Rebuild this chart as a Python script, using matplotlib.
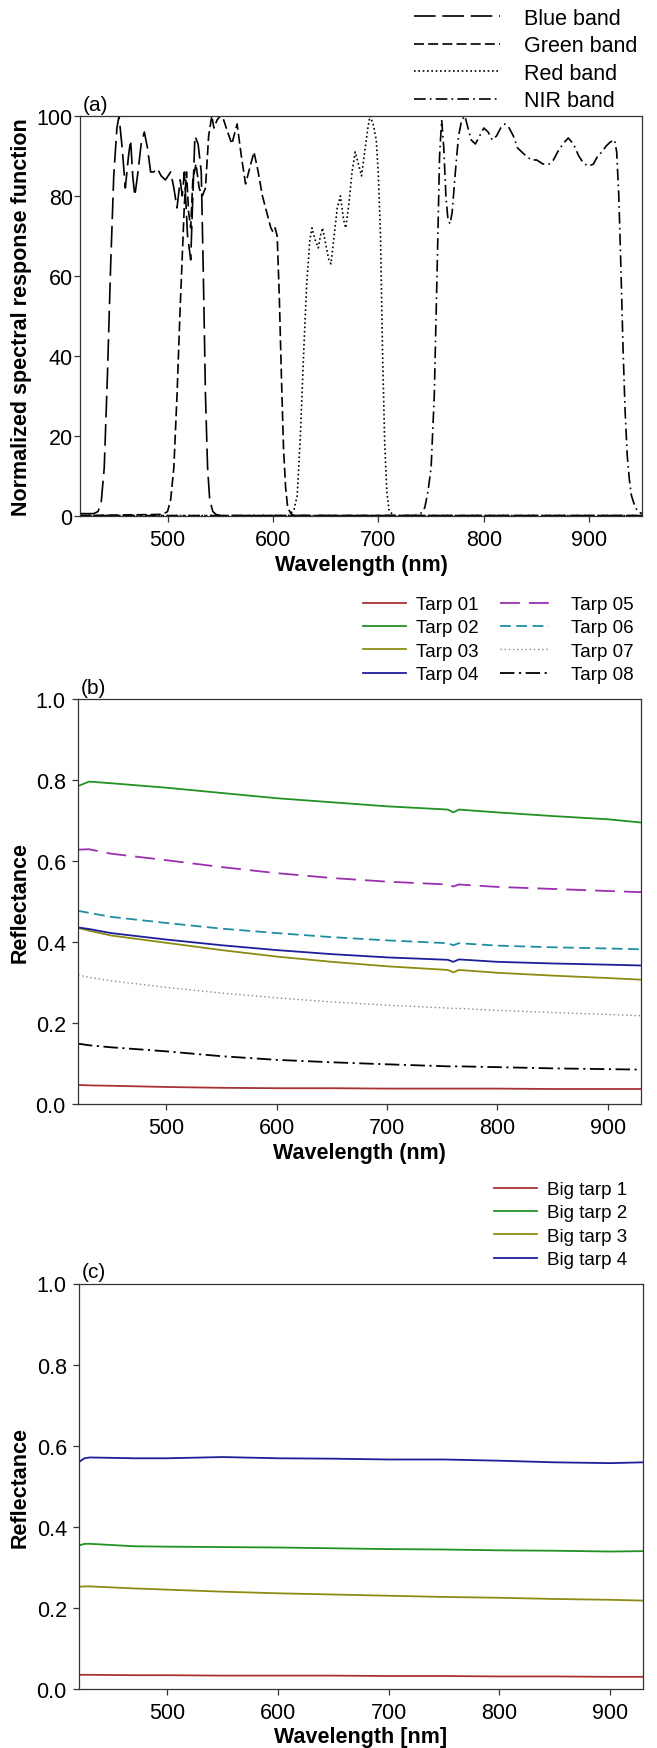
import matplotlib
matplotlib.use("Agg")
import matplotlib.pyplot as plt

plt.rcParams['font.family'] = ['Liberation Sans', 'DejaVu Sans']

# ---- panel (a): normalized spectral response functions ----
blue_nm = [417, 430, 434, 437, 440, 443, 446, 449, 452, 454, 457, 460, 463, 465, 467, 469,
           472, 475, 478, 481, 484, 487, 490, 494, 498, 503, 506, 509, 512, 514, 516, 519,
           522, 524, 526, 529, 532, 534, 536, 538, 540, 543, 546, 550, 600, 950]
blue_val = [0.5, 0.5, 1, 3, 12, 35, 62, 85, 97, 100, 92, 82, 90, 94, 85, 80,
            86, 93, 96, 92, 86, 86, 87, 85, 84, 86, 82, 77, 84, 80, 86, 70,
            64, 80, 95, 93, 86, 60, 30, 12, 4, 1, 0.3, 0, 0, 0]

green_nm = [417, 495, 500, 503, 506, 509, 512, 514, 516, 518, 520, 522, 524, 527, 530, 533,
            536, 539, 542, 544, 547, 550, 552, 557, 561, 566, 570, 574, 578, 582, 586, 590,
            594, 598, 600, 602, 604, 606, 608, 610, 612, 614, 617, 620, 950]
green_val = [0, 0.3, 1, 4, 12, 30, 52, 65, 78, 86, 76, 72, 84, 88, 82, 80,
             82, 95, 100, 97, 99, 100, 100, 96, 93, 98, 90, 83, 87, 91, 86, 80,
             76, 72, 71, 72, 70, 55, 35, 17, 7, 2, 0.5, 0, 0]

red_nm = [417, 615, 620, 623, 626, 629, 632, 635, 637, 640, 643, 645, 647, 650, 653, 655,
          658, 661, 664, 667, 669, 672, 675, 678, 681, 684, 687, 690, 692, 695, 698, 700,
          702, 704, 706, 708, 710, 714, 718, 950]
red_val = [0, 0, 1.5, 5, 20, 40, 58, 69, 72, 69, 67, 70, 72, 68, 64, 63,
           70, 77, 80, 74, 72, 78, 86, 91, 88, 85, 91, 97, 100, 98, 94, 85,
           70, 40, 18, 6, 1.5, 0, 0, 0]

nir_nm = [417, 735, 740, 744, 747, 750, 753, 756, 758, 760, 762, 764, 766, 768, 770, 773,
          776, 779, 782, 785, 788, 792, 796, 800, 804, 808, 812, 816, 820, 824, 828, 832,
          836, 840, 845, 850, 856, 862, 866, 870, 875, 880, 885, 890, 895, 900, 904, 908,
          912, 916, 920, 924, 926, 928, 930, 932, 934, 936, 938, 940, 943, 946, 950]
nir_val = [0, 0, 0.5, 2, 6, 12, 30, 65, 90, 99, 92, 80, 74, 73, 76, 86,
           95, 99, 100, 97, 94, 93, 95, 97, 96, 94, 95, 97, 98, 97, 95, 92,
           91, 90, 89, 89, 88, 88, 89, 91, 93, 94.5, 93, 90, 88, 87.5, 88, 90,
           91, 92.5, 93.5, 94, 91, 80, 62, 42, 26, 15, 9, 5, 2.5, 1, 0.5]

band_labels = ['Blue band', 'Green band', 'Red band', 'NIR band']

# ---- panel (b): tarp reflectance ----
tarp_nm = [420, 430, 450, 500, 550, 600, 650, 700, 755, 760, 765, 800, 850, 900, 930]
tarp01 = [.047, .046, .045, .042, .040, .039, .039, .038, .038, .038, .038, .038, .037, .037, .037]
tarp02 = [.785, .796, .792, .781, .768, .755, .745, .735, .727, .720, .727, .720, .711, .703, .695]
tarp03 = [.435, .428, .416, .398, .380, .364, .351, .340, .331, .325, .331, .324, .317, .311, .307]
tarp04 = [.436, .432, .422, .406, .392, .380, .370, .362, .356, .351, .357, .351, .347, .344, .342]
tarp05 = [.628, .629, .618, .602, .585, .570, .558, .549, .542, .537, .542, .536, .531, .526, .523]
tarp06 = [.477, .472, .462, .447, .433, .422, .412, .404, .397, .392, .397, .391, .387, .384, .382]
tarp07 = [.318, .313, .304, .288, .274, .262, .252, .244, .237, .236, .236, .231, .226, .221, .218]
tarp08 = [.149, .145, .140, .130, .118, .109, .103, .098, .093, .093, .093, .091, .088, .086, .085]
tarp_labels = ['Tarp 01', 'Tarp 02', 'Tarp 03', 'Tarp 04', 'Tarp 05', 'Tarp 06', 'Tarp 07', 'Tarp 08']

# ---- panel (c): big tarp reflectance ----
big_nm = [420, 425, 430, 470, 500, 550, 600, 650, 700, 750, 800, 850, 900, 930]
big1 = [.035, .035, .035, .034, .034, .033, .033, .033, .032, .032, .031, .031, .030, .030]
big2 = [.354, .358, .358, .352, .351, .350, .349, .347, .345, .344, .342, .341, .339, .340]
big3 = [.252, .253, .253, .248, .245, .240, .236, .233, .230, .227, .225, .222, .220, .218]
big4 = [.560, .569, .571, .569, .569, .572, .569, .568, .566, .566, .563, .559, .557, .559]
big_labels = ['Big tarp 1', 'Big tarp 2', 'Big tarp 3', 'Big tarp 4']

c_red = '#a83232'
c_green = '#239123'
c_olive = '#8c8c14'
c_blue = '#1e1e9c'
c_purple = '#9b2fae'
c_teal = '#1f8f9f'
c_gray = '#8a8a8a'

W, H = 657, 1749
fig = plt.figure(figsize=(W / 100, H / 100), dpi=100)


def box(left, right, top, bottom):
    return [left / W, 1 - bottom / H, (right - left) / W, (bottom - top) / H]


def style_axes(ax, label_char, ypad):
    for s in ax.spines.values():
        s.set_linewidth(0.9)
        s.set_color('#333333')
    ax.tick_params(axis='both', which='major', direction='out', length=4.3, width=0.9,
                   labelsize=15.5, top=False, right=False, color='#333333')
    ax.tick_params(axis='x', pad=5)
    ax.tick_params(axis='y', pad=ypad)
    ax.text(0.005, 1.005, label_char, transform=ax.transAxes, fontsize=15,
            ha='left', va='bottom')
    ax.yaxis.set_label_coords(-0.085, 0.5)


def add_legend(handles, x, y, size, hlen, hpad, spacing):
    leg = fig.legend(handles=handles, loc='upper left', bbox_to_anchor=(x / W, 1 - y / H),
                     frameon=False, fontsize=size, handlelength=hlen, handletextpad=hpad,
                     labelspacing=spacing, borderpad=0, borderaxespad=0)
    return leg


# panel (a)
ax1 = fig.add_axes(box(80, 642, 117, 516.6))
lw = 1.2
ax1.plot(blue_nm, blue_val, color='black', lw=lw, dashes=(13, 4), label=band_labels[0])
ax1.plot(green_nm, green_val, color='black', lw=lw, dashes=(6, 2.5), label=band_labels[1])
ax1.plot(red_nm, red_val, color='black', lw=lw, dashes=(1, 1.6), label=band_labels[2])
ax1.plot(nir_nm, nir_val, color='black', lw=lw, dashes=(7, 2.5, 1, 2.5), label=band_labels[3])
ax1.set_xlim(417, 950)
ax1.set_ylim(0, 100)
ax1.set_xticks([500, 600, 700, 800, 900])
ax1.set_yticks([0, 20, 40, 60, 80, 100])
ax1.set_xlabel('Wavelength (nm)', fontsize=15.5, fontweight='bold', labelpad=3)
ax1.set_ylabel('Normalized spectral response function', fontsize=15.5, fontweight='bold')
style_axes(ax1, '(a)', 1)
add_legend(ax1.get_lines(), 414, 9, 15.5, 4.0, 1.1, 0.30)

# panel (b)
ax2 = fig.add_axes(box(78, 641, 700, 1105))
lw = 1.3
ax2.plot(tarp_nm, tarp01, color=c_red, lw=lw, label=tarp_labels[0])
ax2.plot(tarp_nm, tarp02, color=c_green, lw=lw, label=tarp_labels[1])
ax2.plot(tarp_nm, tarp03, color=c_olive, lw=lw, label=tarp_labels[2])
ax2.plot(tarp_nm, tarp04, color=c_blue, lw=lw, label=tarp_labels[3])
ax2.plot(tarp_nm, tarp05, color=c_purple, lw=lw, dashes=(11, 5), label=tarp_labels[4])
ax2.plot(tarp_nm, tarp06, color=c_teal, lw=lw, dashes=(6, 3), label=tarp_labels[5])
ax2.plot(tarp_nm, tarp07, color=c_gray, lw=1.0, dashes=(1, 2), label=tarp_labels[6])
ax2.plot(tarp_nm, tarp08, color='black', lw=lw, dashes=(8, 2.5, 1.2, 2.5), label=tarp_labels[7])
ax2.set_xlim(420, 930)
ax2.set_ylim(0, 1.0)
ax2.set_xticks([500, 600, 700, 800, 900])
ax2.set_yticks([0.0, 0.2, 0.4, 0.6, 0.8, 1.0])
ax2.set_yticklabels(['0.0', '0.2', '0.4', '0.6', '0.8', '1.0'])
ax2.set_xlabel('Wavelength (nm)', fontsize=15.5, fontweight='bold', labelpad=3)
ax2.set_ylabel('Reflectance', fontsize=15.5, fontweight='bold')
style_axes(ax2, '(b)', 4.5)
tarp_lines = ax2.get_lines()
add_legend(tarp_lines[:4], 363, 597, 13.5, 2.3, 0.55, 0.33)
add_legend(tarp_lines[4:], 500, 597, 13.5, 2.6, 1.2, 0.33)

# panel (c)
ax3 = fig.add_axes(box(79, 643, 1284.5, 1690))
ax3.plot(big_nm, big1, color=c_red, lw=lw, label=big_labels[0])
ax3.plot(big_nm, big2, color=c_green, lw=lw, label=big_labels[1])
ax3.plot(big_nm, big3, color=c_olive, lw=lw, label=big_labels[2])
ax3.plot(big_nm, big4, color=c_blue, lw=lw, label=big_labels[3])
ax3.set_xlim(420, 930)
ax3.set_ylim(0, 1.0)
ax3.set_xticks([500, 600, 700, 800, 900])
ax3.set_yticks([0.0, 0.2, 0.4, 0.6, 0.8, 1.0])
ax3.set_yticklabels(['0.0', '0.2', '0.4', '0.6', '0.8', '1.0'])
ax3.set_xlabel('Wavelength [nm]', fontsize=15.5, fontweight='bold', labelpad=2)
ax3.set_ylabel('Reflectance', fontsize=15.5, fontweight='bold')
style_axes(ax3, '(c)', 4.5)
add_legend(ax3.get_lines(), 494, 1182, 13.5, 2.3, 0.55, 0.33)

fig.savefig('out.png', dpi=100)
